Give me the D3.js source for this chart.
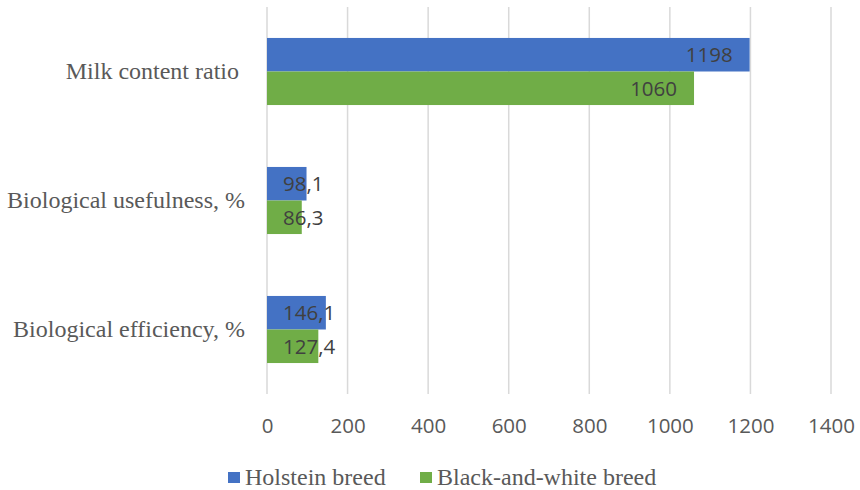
<!DOCTYPE html>
<html>
<head>
<meta charset="utf-8">
<script src="https://cdn.jsdelivr.net/npm/d3@7/dist/d3.min.js"></script>
<style>
  body { margin: 0; background: #ffffff; }
  svg { display: block; }
</style>
</head>
<body>
<svg id="chart" width="860" height="490"></svg>
<script>
const categories = ["Milk content ratio ", "Biological usefulness, %", "Biological efficiency, %"];
const seriesNames = ["Holstein breed", "Black-and-white breed"];
const holstein = [1198, 98.1, 146.1];
const blackWhite = [1060, 86.3, 127.4];
const xTicks = [0, 200, 400, 600, 800, 1000, 1200, 1400];
const colors = ["#4472c4", "#70ad47"];

(function () {
const svg = d3.select("#chart");
const plotLeft = 267, plotRight = 831, plotTop = 7, plotBottom = 394;

const x = d3.scaleLinear().domain([0, 1400]).range([plotLeft, plotRight]);
const y = d3.scaleBand().domain(categories).range([plotTop, plotBottom]).paddingInner(0.48).paddingOuter(0.24);
const ySub = d3.scaleBand().domain([0, 1]).range([0, y.bandwidth()]);

// gridlines
svg.append("g").selectAll("line").data(xTicks).join("line")
  .attr("x1", d => x(d)).attr("x2", d => x(d))
  .attr("y1", plotTop).attr("y2", plotBottom)
  .attr("stroke", "#d9d9d9").attr("stroke-width", 1.5);

// x axis tick labels
const xAxis = d3.axisBottom(x).tickValues(xTicks).tickSize(0).tickPadding(0).tickFormat(d3.format("d"));
const ax = svg.append("g").attr("transform", `translate(0, 417)`).call(xAxis);
ax.select(".domain").remove();
ax.selectAll("text")
  .attr("dy", null).attr("y", 16)
  .attr("font-family", "'Open Sans', sans-serif").attr("font-size", 20.5).attr("fill", "#595959");

// category labels
const yAxis = d3.axisLeft(y).tickSize(0).tickPadding(0);
const ay = svg.append("g").attr("transform", `translate(245, 0)`).call(yAxis);
ay.select(".domain").remove();
ay.selectAll("text")
  .attr("x", 0)
  .style("white-space", "pre")
  .attr("font-family", "'Liberation Serif', 'Times New Roman', serif").attr("font-size", 24).attr("fill", "#595959");

const fmt = v => String(v).replace(".", ",");
const series = [holstein, blackWhite];

series.forEach((vals, si) => {
  const g = svg.append("g");
  g.selectAll("rect").data(vals).join("rect")
    .attr("x", x(0))
    .attr("y", (d, i) => y(categories[i]) + ySub(si))
    .attr("width", d => x(d) - x(0))
    .attr("height", ySub.bandwidth())
    .attr("fill", colors[si]);
  const labels = g.selectAll("text").data(vals).join("text")
    .attr("y", (d, i) => y(categories[i]) + ySub(si) + ySub.bandwidth() / 2)
    .attr("dy", "0.36em")
    .attr("font-family", "'Open Sans', sans-serif").attr("font-size", 20.5).attr("fill", "#404040")
    .text(d => fmt(d));
  labels.each(function (d) {
    const w = this.getComputedTextLength();
    const pos = Math.max(x(d) - 17 - w, x(0) + 16);
    d3.select(this).attr("x", pos);
  });
});

// legend
const legend = svg.append("g");
const legendX = [228, 420];
seriesNames.forEach((name, i) => {
  legend.append("rect").attr("x", legendX[i]).attr("y", 472).attr("width", 12).attr("height", 11).attr("fill", colors[i]);
  legend.append("text").attr("x", legendX[i] + 17).attr("y", 485)
    .attr("font-family", "'Liberation Serif', 'Times New Roman', serif").attr("font-size", 24).attr("fill", "#595959")
    .text(name);
});
})();
</script>
</body>
</html>
